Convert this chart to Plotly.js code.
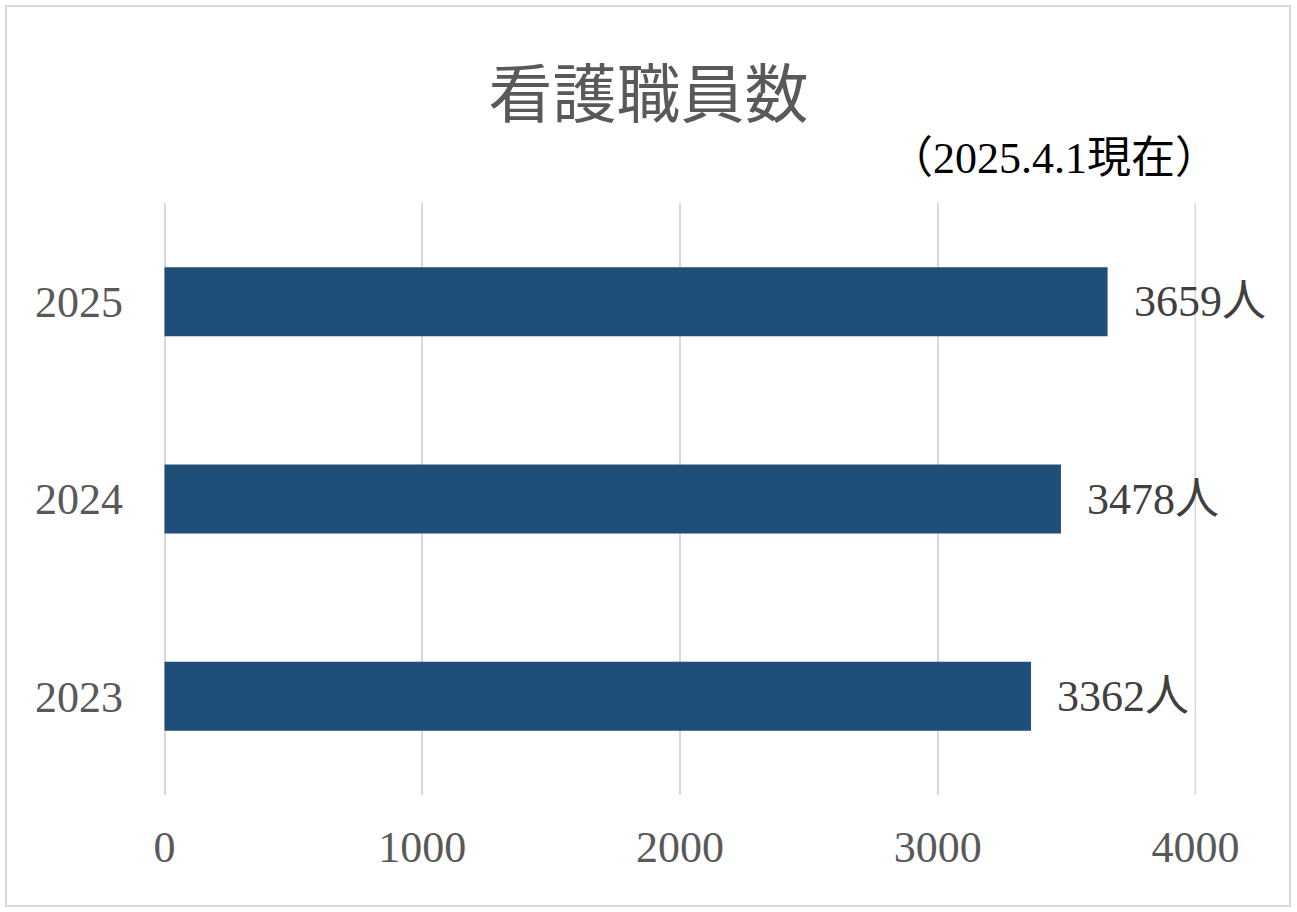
<!DOCTYPE html>
<html>
<head>
<meta charset="utf-8">
<script src="https://cdn.plot.ly/plotly-3.0.1.min.js"></script>
<style>
html,body{margin:0;padding:0;background:#fff;}
#wrap{position:relative;width:1297px;height:912px;}
#chart{width:1297px;height:912px;}
#frame{position:absolute;left:5px;top:5px;width:1282px;height:898px;border:2px solid #d9d9d9;pointer-events:none;}
</style>
</head>
<body>
<div id="wrap"><div id="chart"></div><div id="frame"></div></div>
<script>
const years = ['2023', '2024', '2025'];
const staff = [3362, 3478, 3659];
const xTicks = [0, 1000, 2000, 3000, 4000];
const unit = '人';
const titleText = '看護職員数';
const noteText = '（2025.4.1現在）';

const fontFam = '"Liberation Serif", "DejaVu Serif", "Noto Sans CJK JP", serif';

const trace = {
  type: 'bar',
  orientation: 'h',
  y: years,
  x: staff,
  marker: {color: '#1f4e79', line: {width: 0}},
  width: 0.35,
  hoverinfo: 'x+y'
};

const annotations = years.map((y, i) => ({
  x: staff[i], y: i, xref: 'x', yref: 'y',
  text: staff[i] + unit,
  showarrow: false, xanchor: 'left', yanchor: 'middle', xshift: 24,
  font: {family: fontFam, size: 44, color: '#404040'}
}));
annotations.push({
  x: 1.024, y: 1.076, xref: 'paper', yref: 'paper',
  text: noteText, showarrow: false, xanchor: 'right', yanchor: 'middle',
  font: {family: fontFam, size: 44, color: '#000000'}
});

const lastTick = xTicks[xTicks.length - 1];
const shapes = [{
  type: 'line', xref: 'x', yref: 'paper',
  x0: lastTick, x1: lastTick, y0: 0, y1: 1,
  line: {color: '#d9d9d9', width: 2}, layer: 'below'
}];

const layout = {
  width: 1297, height: 912,
  margin: {l: 164, r: 101, t: 203, b: 117},
  paper_bgcolor: '#ffffff', plot_bgcolor: '#ffffff',
  showlegend: false,
  title: {
    text: titleText, x: 0.5, xref: 'container', xanchor: 'center',
    y: 1 - 95/912, yref: 'container', yanchor: 'middle',
    font: {family: fontFam, size: 64, color: '#595959'}
  },
  xaxis: {
    range: [-2, 4002], tickvals: xTicks, ticktext: xTicks.map(String),
    showgrid: true, gridcolor: '#d9d9d9', gridwidth: 2,
    zeroline: true, zerolinecolor: '#d9d9d9', zerolinewidth: 2,
    showline: false, ticks: '',
    ticklabelstandoff: 22,
    tickfont: {family: fontFam, size: 44, color: '#595959'},
    fixedrange: true
  },
  yaxis: {
    type: 'category', categoryorder: 'array', categoryarray: years,
    range: [-0.5, 2.5],
    showgrid: false, zeroline: false, showline: false, ticks: '',
    ticklabelstandoff: 40,
    tickfont: {family: fontFam, size: 44, color: '#595959'},
    fixedrange: true
  },
  shapes: shapes,
  annotations: annotations
};

Plotly.newPlot('chart', [trace], layout, {displayModeBar: false, staticPlot: true});
</script>
</body>
</html>
